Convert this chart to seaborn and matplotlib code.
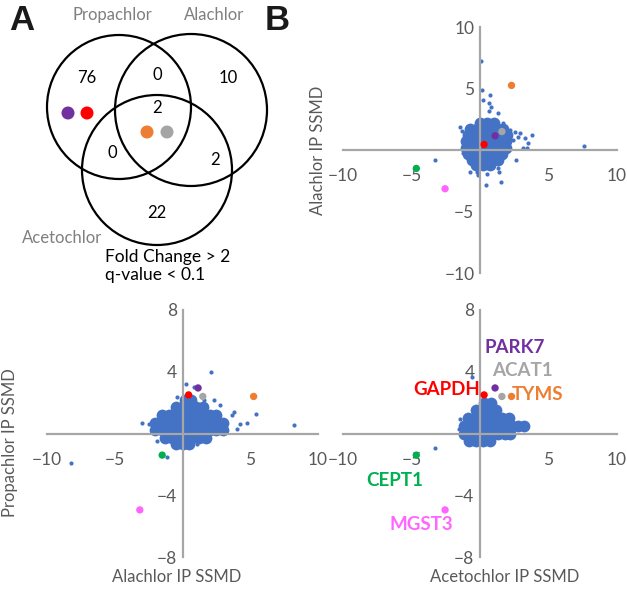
import matplotlib
matplotlib.use("Agg")
import matplotlib.pyplot as plt
from matplotlib.patches import Circle
import seaborn as sns
import pandas as pd

# ---- data ----
# venn counts
venn_labels = ["Propachlor", "Alachlor", "Acetochlor"]
venn_counts = [76, 0, 10, 2, 0, 2, 22]  # P only, P&A, A only, all, P&Ac, A&Ac, Ac only

# highlighted proteins: SSMD per herbicide
genes = ["PARK7", "ACAT1", "GAPDH", "TYMS", "CEPT1", "MGST3"]
gene_colors = ["#7030A0", "#A5A5A5", "#FF0000", "#ED7D31", "#00B050", "#FF66FF"]
aceto = [1.1, 1.6, 0.3, 2.3, -4.65, -2.55]
alach = [1.15, 1.5, 0.45, 5.25, -1.5, -3.15]
propa = [2.95, 2.4, 2.5, 2.4, -1.4, -4.95]

# background proteins, dense core of each cloud
tr_core_x = [0.0, 0.5, 1.0,
             -0.7, -0.2, 0.3, 0.8, 1.3, 1.7,
             -0.9, -0.4, 0.1, 0.6, 1.1, 1.6, 2.0,
             -1.0, -0.5, 0.0, 0.5, 1.0, 1.5, 1.9,
             -1.0, -0.5, 0.0, 0.5, 1.0, 1.5, 1.9,
             -0.9, -0.4, 0.1, 0.6, 1.1, 1.6,
             -0.6, -0.1, 0.4, 0.9, 1.3,
             -0.3, 0.2, 0.7]
tr_core_y = [2.2, 2.2, 2.2,
             1.7, 1.7, 1.7, 1.7, 1.7, 1.7,
             1.2, 1.2, 1.2, 1.2, 1.2, 1.2, 1.2,
             0.7, 0.7, 0.7, 0.7, 0.7, 0.7, 0.7,
             0.2, 0.2, 0.2, 0.2, 0.2, 0.2, 0.2,
             -0.3, -0.3, -0.3, -0.3, -0.3, -0.3,
             -0.8, -0.8, -0.8, -0.8, -0.8,
             -1.2, -1.2, -1.2]
tr_out_x = [0.07, 0.12, 0.73, 0.2, 0.68, 0.8, 0.68, 1.34, 0.98, 1.7, -1.46, -1.34,
            2.2, 2.56, 2.93, 3.78, 2.8, 3.29, 3.54, 3.17, 3.4, 2.44, 7.56, -1.22,
            -3.3, 2.63, -0.24, -0.12, 0.49, 1.34, 1.41, 1.51, 0.44, -0.73]
tr_out_y = [7.25, 4.86, 4.5, 4.05, 3.84, 3.5, 3.16, 2.97, 2.43, 2.2, 1.84, 1.57,
            1.62, 1.49, 1.4, 1.22, 1.08, 0.95, 0.54, 0.19, 0.19, 0.81, 0.32, -0.27,
            -0.81, -0.81, -1.76, -2.03, -1.95, -1.49, -1.76, -2.62, -2.84, -1.76]

bl_core_x = [0.2, 0.6,
             -0.5, 0.0, 0.5, 1.0, 1.5,
             -1.5, -1.0, -0.5, 0.0, 0.5, 1.0, 1.5, 2.0, 2.5,
             -2.0, -1.5, -1.0, -0.5, 0.0, 0.5, 1.0, 1.5, 2.0, 2.5, 3.0,
             -2.0, -1.5, -1.0, -0.5, 0.0, 0.5, 1.0, 1.5, 2.0, 2.5, 3.0,
             -1.3, -0.8, -0.3, 0.2, 0.7, 1.2, 1.7,
             -0.5, 0.0, 0.5]
bl_core_y = [2.2, 2.2,
             1.7, 1.7, 1.7, 1.7, 1.7,
             1.2, 1.2, 1.2, 1.2, 1.2, 1.2, 1.2, 1.2, 1.2,
             0.7, 0.7, 0.7, 0.7, 0.7, 0.7, 0.7, 0.7, 0.7, 0.7, 0.7,
             0.2, 0.2, 0.2, 0.2, 0.2, 0.2, 0.2, 0.2, 0.2, 0.2, 0.2,
             -0.3, -0.3, -0.3, -0.3, -0.3, -0.3, -0.3,
             -0.7, -0.7, -0.7]
bl_out_x = [2.1, 0.27, 0.83, -0.39, 2.3, 1.57, 2.8, 3.8, 3.65, 5.4, -2.97, -2.48,
            4.75, 4.26, 4.0, 8.2, -2.1, -1.9, -1.13, -8.2, 1.57, 1.08]
bl_out_y = [4.0, 3.2, 2.98, 2.37, 2.2, 2.16, 1.83, 1.39, 1.18, 1.29, 0.68, 0.63,
            0.68, 0.63, 0.3, 0.57, 0.09, -0.46, -1.55, -1.94, -0.46, -0.68]

br_core_x = [0.3, 0.8,
             -0.3, 0.2, 0.7, 1.2,
             -0.9, -0.4, 0.1, 0.6, 1.1, 1.6, 2.1,
             -1.2, -0.7, -0.2, 0.3, 0.8, 1.3, 1.8, 2.3, 2.8, 3.2,
             -1.2, -0.7, -0.2, 0.3, 0.8, 1.3, 1.8, 2.2,
             -0.8, -0.3, 0.2, 0.7]
br_core_y = [2.0, 2.0,
             1.5, 1.5, 1.5, 1.5,
             1.0, 1.0, 1.0, 1.0, 1.0, 1.0, 1.0,
             0.5, 0.5, 0.5, 0.5, 0.5, 0.5, 0.5, 0.5, 0.5, 0.5,
             0.0, 0.0, 0.0, 0.0, 0.0, 0.0, 0.0, 0.0,
             -0.5, -0.5, -0.5, -0.5]
br_out_x = [-0.6, -1.46, -1.54, -3.3, 1.5, 3.4]
br_out_y = [3.67, 0.96, 0.3, -0.93, 2.37, 0.52]

ticks10 = [-10, -5, 5, 10]
ticks8 = [-8, -4, 4, 8]

BLUE = "#4472C4"
GRAY = "#A6A6A6"
TXT = "#595959"

sns.set_theme(style="white")
plt.rcParams["font.family"] = ["Lato", "DejaVu Sans"]

W, H = 627, 590
fig = plt.figure(figsize=(W / 100, H / 100), dpi=100)


def px_axes(x0, y0, x1, y1):
    # axes from pixel box (top-left origin)
    return fig.add_axes([x0 / W, 1 - y1 / H, (x1 - x0) / W, (y1 - y0) / H])


def cross_axes(ax, xt, yt, ylim):
    ax.set_xlim(-10, 10)
    ax.set_ylim(*ylim)
    for s in ["top", "right"]:
        ax.spines[s].set_visible(False)
    for s in ["left", "bottom"]:
        ax.spines[s].set_position(("data", 0))
        ax.spines[s].set_color(GRAY)
        ax.spines[s].set_linewidth(1.6)
    ax.set_xticks(xt)
    ax.set_yticks(yt)
    ax.tick_params(axis="both", length=0, labelsize=12.5, labelcolor=TXT)
    ax.tick_params(axis="x", pad=13)
    ax.tick_params(axis="y", pad=4)
    ax.set_facecolor("none")
    ax.set_xlabel("")
    ax.set_ylabel("")


def cloud(ax, cx, cy, ox, oy, hx, hy):
    sns.scatterplot(x=cx, y=cy, ax=ax, color=BLUE, s=72, linewidth=0, legend=False)
    sns.scatterplot(x=ox, y=oy, ax=ax, color=BLUE, s=9, linewidth=0, legend=False)
    df = pd.DataFrame({"x": hx, "y": hy, "gene": genes})
    sns.scatterplot(data=df, x="x", y="y", hue="gene", palette=dict(zip(genes, gene_colors)),
                    ax=ax, s=28, linewidth=0, legend=False, zorder=5)


# ---- Panel A: Venn ----
va = px_axes(0, 0, 320, 300)
va.set_xlim(0, 320)
va.set_ylim(300, 0)
va.axis("off")
for (cx, cy, r) in [(119, 107, 72), (191, 110, 76), (157, 170, 75)]:
    va.add_patch(Circle((cx, cy), r, fill=False, ec="black", lw=1.6))
count_pos = [(87, 78), (157, 75), (228, 78), (157, 108), (112, 153), (215, 160), (157, 213)]
for (x, y), n in zip(count_pos, venn_counts):
    va.text(x, y, str(n), ha="center", va="center", fontsize=12, color="black")
for (x, y), lab in zip([(112, 15), (214, 15), (62, 238)], venn_labels):
    va.text(x, y, lab, ha="center", va="center", fontsize=12, color="#7F7F7F")
venn_dot_pos = {"PARK7": (68, 113), "GAPDH": (87, 113), "TYMS": (147, 132), "ACAT1": (167, 132)}
for g, c in zip(genes, gene_colors):
    if g in venn_dot_pos:
        x, y = venn_dot_pos[g]
        va.add_patch(Circle((x, y), 6.5, color=c, lw=0))
va.text(105, 257, "Fold Change > 2", ha="left", va="center", fontsize=12.5, color="black")
va.text(105, 275, "q-value < 0.1", ha="left", va="center", fontsize=12.5, color="black")
va.text(22, 20, "A", ha="center", va="center", fontsize=25, fontweight="bold",
        family="Liberation Sans", color="#1a1a1a")
va.text(277, 20, "B", ha="center", va="center", fontsize=25, fontweight="bold",
        family="Liberation Sans", color="#1a1a1a")

# ---- Panel B: scatter plots ----
ax_tr = px_axes(343, 27, 617, 273)
cloud(ax_tr, tr_core_x, tr_core_y, tr_out_x, tr_out_y, aceto, alach)
cross_axes(ax_tr, ticks10, ticks10, (-10, 10))

ax_bl = px_axes(47, 310, 318, 557)
cloud(ax_bl, bl_core_x, bl_core_y, bl_out_x, bl_out_y, alach, propa)
cross_axes(ax_bl, ticks10, ticks8, (-8, 8))

ax_br = px_axes(343, 310, 617, 557)
cloud(ax_br, br_core_x, br_core_y, br_out_x, br_out_y, aceto, propa)
cross_axes(ax_br, ticks10, ticks8, (-8, 8))

label_pos = {"PARK7": (2.5, 5.6), "ACAT1": (3.07, 4.1), "GAPDH": (-2.4, 2.88),
             "TYMS": (4.2, 2.5), "CEPT1": (-6.2, -3.07), "MGST3": (-4.3, -5.9)}
for g, c in zip(genes, gene_colors):
    x, y = label_pos[g]
    ax_br.text(x, y, g, ha="center", va="center", fontsize=13.5, fontweight="bold", color=c)

fig.text(318 / W, 1 - 150 / H, "Alachlor IP SSMD", rotation=90, ha="center", va="center",
         fontsize=12, color=TXT)
fig.text(10 / W, 1 - 443 / H, "Propachlor IP SSMD", rotation=90, ha="center", va="center",
         fontsize=12, color=TXT)
fig.text(177 / W, 1 - 577 / H, "Alachlor IP SSMD", ha="center", va="center",
         fontsize=12, color=TXT)
fig.text(505 / W, 1 - 577 / H, "Acetochlor IP SSMD", ha="center", va="center",
         fontsize=12, color=TXT)

fig.savefig("out.png", dpi=100, facecolor="white")
